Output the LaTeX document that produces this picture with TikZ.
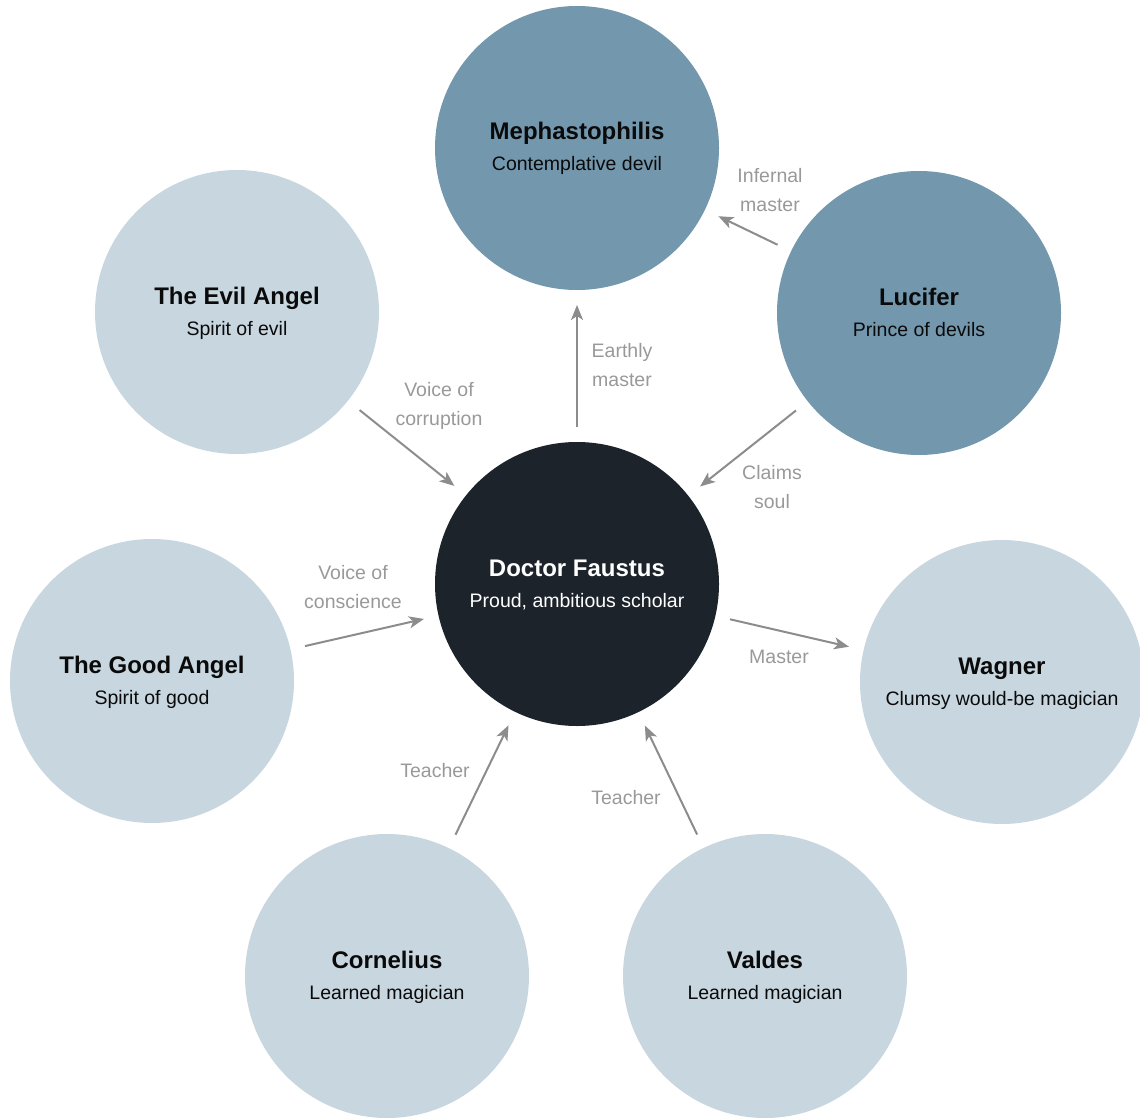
\documentclass[tikz,border=0pt]{standalone}
\usepackage{fontspec}
\setmainfont{Liberation Sans}
\usetikzlibrary{arrows.meta}
\definecolor{darkc}{HTML}{1D232B}
\definecolor{steelc}{HTML}{7397AD}
\definecolor{lightc}{HTML}{C8D6DF}
\definecolor{arrowc}{HTML}{8C8C8C}
\definecolor{labelc}{HTML}{999999}
\definecolor{inkc}{HTML}{0A0A0A}
\newcommand{\ttlf}{\fontsize{24}{31}\selectfont\bfseries}
\tikzset{
  person/.style={circle, minimum size=284pt, inner sep=0pt, outer sep=15pt, align=center,
    font=\fontsize{19.5}{31}\selectfont, text=inkc, text height=51pt, text depth=5pt},
  lightp/.style={person, fill=lightc},
  steelp/.style={person, fill=steelc},
  darkp/.style={person, fill=darkc, text=white},
  rel/.style={draw=arrowc, line width=2pt, -{Stealth[length=15pt,width=12pt,inset=4pt]}},
  lbl/.style={align=center, text=labelc, font=\fontsize{19.5}{29}\selectfont, inner sep=0pt}
}
\begin{document}
\begin{tikzpicture}[x=1pt,y=-1pt]
\useasboundingbox (0,0) rectangle (1140,1118);
\node[darkp]  (fau) at (577,584) {{\ttlf Doctor Faustus}\\Proud, ambitious scholar};
\node[steelp] (mep) at (577,148) {{\ttlf Mephastophilis}\\Contemplative devil};
\node[steelp] (luc) at (919,313) {{\ttlf Lucifer}\\Prince of devils};
\node[lightp] (evi) at (237,312) {{\ttlf The Evil Angel}\\Spirit of evil};
\node[lightp] (goo) at (152,681) {{\ttlf The Good Angel}\\Spirit of good};
\node[lightp] (wag) at (1002,682) {{\ttlf Wagner}\\Clumsy would-be magician};
\node[lightp] (cor) at (387,976) {{\ttlf Cornelius}\\Learned magician};
\node[lightp] (val) at (765,976) {{\ttlf Valdes}\\Learned magician};

\draw[rel] (fau) -- (mep);
\draw[rel] (luc) -- (mep);
\draw[rel] (luc) -- (fau);
\draw[rel] (evi) -- (fau);
\draw[rel] (goo) -- (fau);
\draw[rel] (fau) -- (wag);
\draw[rel] (cor) -- (fau);
\draw[rel] (val) -- (fau);

\node[lbl] (l1) at (622,365) {Earthly\\master};
\node[lbl] (l2) at (770,190) {Infernal\\master};
\node[lbl] (l3) at (772,487) {Claims\\soul};
\node[lbl] (l4) at (439,406) {Voice of\\corruption};
\node[lbl] (l5) at (353,587) {Voice of\\conscience};
\node[lbl] (l6) at (779,657) {Master};
\node[lbl] (l7) at (435,771) {Teacher};
\node[lbl] (l8) at (626,798) {Teacher};
\end{tikzpicture}
\end{document}
